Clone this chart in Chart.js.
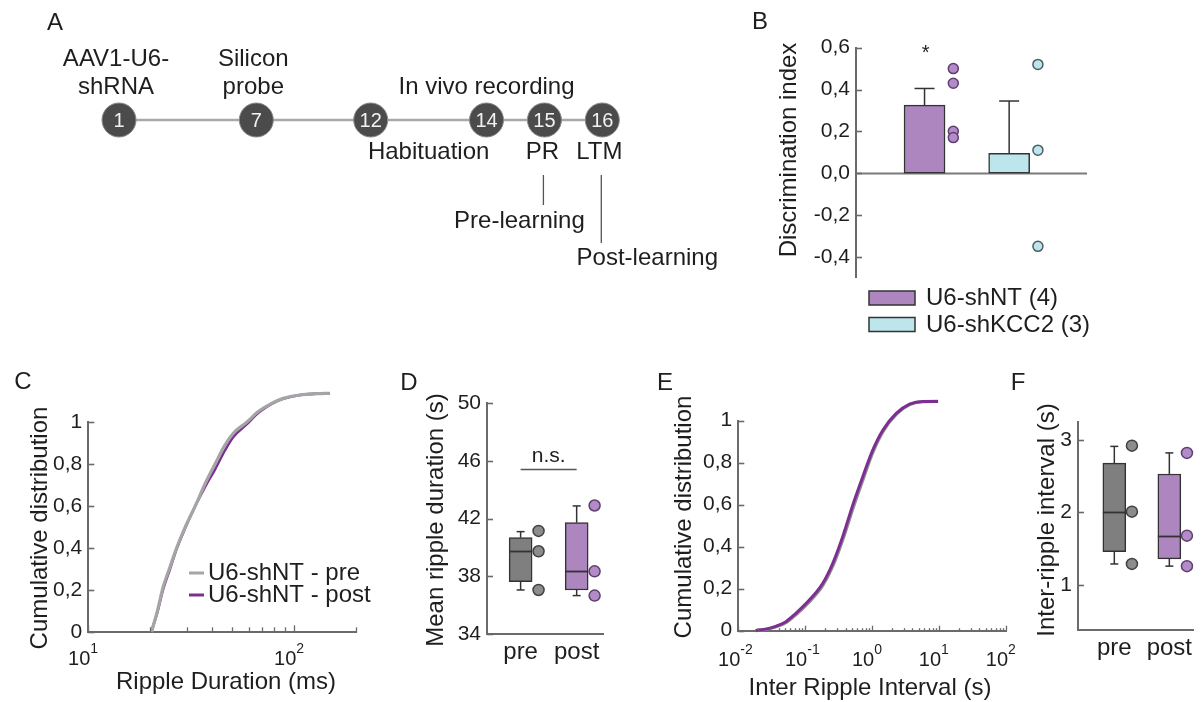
<!DOCTYPE html>
<html>
<head>
<meta charset="utf-8">
<script src="https://cdn.jsdelivr.net/npm/chart.js@4.4.1/dist/chart.umd.min.js"></script>
<style>
html,body{margin:0;padding:0;background:#fff;}
#wrap{position:relative;width:1202px;height:702px;overflow:hidden;background:#fff;}
#wrap canvas{position:absolute;left:0;top:0;}
</style>
</head>
<body>
<div id="wrap">
<canvas id="cA" width="1202" height="702"></canvas>
<canvas id="cB" width="1202" height="702"></canvas>
<canvas id="cC" width="1202" height="702"></canvas>
<canvas id="cD" width="1202" height="702"></canvas>
<canvas id="cE" width="1202" height="702"></canvas>
<canvas id="cF" width="1202" height="702"></canvas>
</div>
<script>
// ---------------- DATA ----------------
// Panel A: timeline (days)
const timelineDays = [1, 7, 12, 14, 15, 16];
const timelineTop = { 1: ['AAV1-U6-', 'shRNA'], 7: ['Silicon', 'probe'] };

// Panel B: discrimination index
const groupLabels = ['U6-shNT (4)', 'U6-shKCC2 (3)'];
const discMean = [0.325, 0.095];
const discErr = [0.08, 0.25];
const discShNT = [0.50, 0.43, 0.20, 0.17];
const discShKCC2 = [0.52, 0.11, -0.35];
const discSig = ['*', ''];
const discTicks = [-0.4, -0.2, 0, 0.2, 0.4, 0.6];

// Panel C: ripple duration CDF
const durationMs = [20.2, 21.5, 23.1, 24.9, 26.8, 29.5, 33.0, 37.0, 41.2, 46.0, 50.6, 58.7, 66.9, 77.6, 88.4, 106.6, 128, 149];
const cdfDurPre  = [0, 0.09, 0.217, 0.31, 0.40, 0.50, 0.60, 0.71, 0.80, 0.89, 0.948, 1.00, 1.051, 1.090, 1.114, 1.130, 1.136, 1.138];
const cdfDurPost = [0, 0.085, 0.205, 0.30, 0.395, 0.495, 0.60, 0.695, 0.775, 0.865, 0.93, 0.99, 1.045, 1.088, 1.112, 1.130, 1.136, 1.138];
const cdfTicks = [0, 0.2, 0.4, 0.6, 0.8, 1];

// Panel D: mean ripple duration (min, q1, median, q3, max)
const sessions = ['pre', 'post'];
const durStatsPre  = [37.05, 37.62, 39.73, 40.67, 41.09];
const durStatsPost = [36.66, 37.05, 38.34, 41.71, 42.87];
const durPtsPre  = [41.14, 39.73, 37.05];
const durPtsPost = [42.90, 38.34, 36.66];
const durSigY = 45.4;
const durTicks = [34, 38, 42, 46, 50];

// Panel E: inter ripple interval CDF
const iriSec = [0.0182, 0.0288, 0.0514, 0.0724, 0.115, 0.182, 0.257, 0.363, 0.513, 0.724, 1.02, 1.45, 2.29, 3.63, 5.75, 9.66];
const cdfIriPost = [0, 0.011, 0.043, 0.083, 0.146, 0.225, 0.32, 0.448, 0.598, 0.733, 0.86, 0.956, 1.035, 1.079, 1.092, 1.092];
const cdfIriPre  = [0, 0.009, 0.038, 0.076, 0.137, 0.214, 0.306, 0.432, 0.58, 0.717, 0.848, 0.948, 1.03, 1.077, 1.091, 1.092];

// Panel F: inter-ripple interval (min, q1, median, q3, max)
const iriStatsPre  = [1.29, 1.46, 2.01, 2.68, 2.91];
const iriStatsPost = [1.26, 1.36, 1.68, 2.53, 2.82];
const iriPtsPre  = [2.92, 2.01, 1.29];
const iriPtsPost = [2.82, 1.68, 1.26];
const iriTicks = [1, 2, 3];

// ---------------- STYLE ----------------
const FONT = "'Liberation Sans', Arial, Helvetica, sans-serif";
Chart.defaults.font.family = FONT;
Chart.defaults.color = '#1e1e1e';
const W = 1202, H = 702;
const TXT = '#1e1e1e';
const AXIS = '#6a6a6a';
const PURPLE = '#ad86bf', PURPLE_PT = '#b28bc8', PURPLE_EDGE = '#5e3f6e';
const CYAN = '#bce5ec', CYAN_EDGE = '#4b5f63';
const GRAYBOX = '#7f7f7f', GRAY_PT = '#8c8c8c', GRAY_EDGE = '#404040';
const LINE_GRAY = '#a5a5a5', LINE_PURPLE = '#7d2e92';
const BOX_EDGE = '#333333';
const TS = 24;   // title / label text size
const KS = 21;   // tick label size

function comma(v) {
  if (v === 0) return '0';
  if (Number.isInteger(v)) return String(v);
  return v.toFixed(1).replace('.', ',');
}
function comma1(v) { return v.toFixed(1).replace('.', ','); }

function txt(ctx, s, x, y, o) {
  o = o || {};
  ctx.save();
  ctx.font = (o.weight || 'normal') + ' ' + (o.size || TS) + 'px ' + FONT;
  ctx.fillStyle = o.color || TXT;
  ctx.textAlign = o.align || 'center';
  ctx.textBaseline = o.baseline || 'middle';
  ctx.translate(x, y);
  if (o.rot) ctx.rotate(o.rot);
  ctx.fillText(s, 0, 0);
  ctx.restore();
}
function line(ctx, x1, y1, x2, y2, color, w) {
  ctx.save();
  ctx.strokeStyle = color; ctx.lineWidth = w; ctx.lineCap = 'butt';
  ctx.beginPath(); ctx.moveTo(x1, y1); ctx.lineTo(x2, y2); ctx.stroke();
  ctx.restore();
}
function pow10(ctx, exp, x, y) {
  txt(ctx, '10', x + 2, y, { size: 20, align: 'right' });
  txt(ctx, String(exp), x + 2, y - 10, { size: 14, align: 'left' });
}
function innerYTicks(chart, len) {
  const s = chart.scales.y, ctx = chart.ctx, L = chart.chartArea.left;
  s.ticks.forEach(t => {
    const p = Math.round(s.getPixelForValue(t.value)) + 0.5;
    line(ctx, L, p, L + len, p, AXIS, 1.6);
  });
}
function logXTicks(chart, minorLen, majorLen) {
  const s = chart.scales.x, ctx = chart.ctx, B = chart.chartArea.bottom;
  const lo = Math.floor(Math.log10(s.min)), hi = Math.ceil(Math.log10(s.max));
  for (let e = lo; e <= hi; e++) {
    for (let m = 1; m <= 9; m++) {
      const v = m * Math.pow(10, e);
      if (v < s.min * 0.999 || v > s.max * 1.001) continue;
      const p = Math.round(s.getPixelForValue(v)) + 0.5;
      line(ctx, p, B, p, B - (m === 1 ? majorLen : minorLen), AXIS, 1.3);
    }
  }
}
function padFor(a, yW, xH) {
  return { left: a.L - yW, top: a.T, right: W - a.R, bottom: H - a.B - xH };
}
function baseOpts(area, yW, xH) {
  return {
    responsive: false, animation: false, devicePixelRatio: 1,
    layout: { padding: padFor(area, yW, xH) },
    plugins: { legend: { display: false }, tooltip: { enabled: false } },
    events: []
  };
}
function yScale(min, max, ticksArr, yW, fmt) {
  return {
    type: 'linear', min: min, max: max,
    afterBuildTicks: s => { s.ticks = ticksArr.map(v => ({ value: v })); },
    afterFit: s => { s.width = yW; },
    grid: { display: false, drawTicks: false },
    border: { display: true, color: AXIS, width: 2 },
    ticks: { callback: fmt, font: { size: KS }, color: TXT, padding: 6, autoSkip: false }
  };
}
function whiskers(chart, statsList, cap) {
  const ctx = chart.ctx, x = chart.scales.x, y = chart.scales.y;
  statsList.forEach((st, i) => {
    const cx = x.getPixelForValue(i + 1);
    line(ctx, cx, y.getPixelForValue(st[3]), cx, y.getPixelForValue(st[4]), BOX_EDGE, 1.5);
    line(ctx, cx, y.getPixelForValue(st[1]), cx, y.getPixelForValue(st[0]), BOX_EDGE, 1.5);
    line(ctx, cx - cap, y.getPixelForValue(st[4]), cx + cap, y.getPixelForValue(st[4]), BOX_EDGE, 1.5);
    line(ctx, cx - cap, y.getPixelForValue(st[0]), cx + cap, y.getPixelForValue(st[0]), BOX_EDGE, 1.5);
  });
}
function medians(chart, statsList) {
  const ctx = chart.ctx, x = chart.scales.x, y = chart.scales.y;
  statsList.forEach((st, i) => {
    const cx = x.getPixelForValue(i + 1);
    const py = Math.round(y.getPixelForValue(st[2])) + 0.5;
    line(ctx, cx - 11.5, py, cx + 11.5, py, BOX_EDGE, 1.8);
  });
}

// ---------------- PANEL A: timeline ----------------
const expand = d => d <= 12 ? d : 12 + (d - 12) * 2.53;
(function () {
  const area = { L: 119, R: 602.3, T: 100, B: 140 };
  const o = baseOpts(area, 0, 0);
  o.scales = {
    x: { type: 'linear', display: false, min: expand(timelineDays[0]), max: expand(timelineDays[timelineDays.length - 1]) },
    y: { type: 'linear', display: false, min: -1, max: 1 }
  };
  new Chart(document.getElementById('cA'), {
    type: 'scatter',
    data: { datasets: [{
      label: 'timeline',
      data: timelineDays.map(d => ({ x: expand(d), y: 0 })),
      showLine: true, borderColor: '#a8a8a8', borderWidth: 2.5,
      pointRadius: 17, pointBackgroundColor: '#4b4b4b', pointBorderColor: '#8a8a8a', pointBorderWidth: 1,
      clip: false
    }] },
    options: o,
    plugins: [{
      id: 'timelineText',
      afterDatasetsDraw(chart) {
        const ctx = chart.ctx, meta = chart.getDatasetMeta(0);
        const pts = meta.data.map(p => ({ x: p.x, y: p.y }));
        const byDay = {}; timelineDays.forEach((d, i) => byDay[d] = pts[i]);
        timelineDays.forEach((d, i) => {
          txt(ctx, String(d), pts[i].x, pts[i].y + 1, { size: 20, color: '#f2f2f2' });
          if (timelineTop[d]) {
            txt(ctx, timelineTop[d][0], pts[i].x - 3, pts[i].y - 61);
            txt(ctx, timelineTop[d][1], pts[i].x - 3, pts[i].y - 33);
          }
        });
        const cy = pts[0].y;
        txt(ctx, 'In vivo recording', byDay[14].x, cy - 33);
        txt(ctx, 'Habituation', (byDay[12].x + byDay[14].x) / 2, cy + 32);
        txt(ctx, 'PR', byDay[15].x - 2, cy + 32);
        txt(ctx, 'LTM', byDay[16].x - 3, cy + 32);
        line(ctx, byDay[15].x - 1, cy + 55, byDay[15].x - 1, cy + 85, '#555', 1.3);
        line(ctx, byDay[16].x - 1, cy + 55, byDay[16].x - 1, cy + 123, '#555', 1.3);
        txt(ctx, 'Pre-learning', byDay[15].x - 25, cy + 101);
        txt(ctx, 'Post-learning', byDay[16].x + 45, cy + 138);
        txt(ctx, 'A', 55, 23, { size: 24 });
      }
    }]
  });
})();

// ---------------- PANEL B: discrimination index ----------------
(function () {
  const area = { L: 856, R: 1087, T: 47.7, B: 277.7 };
  const yW = 50;
  const o = baseOpts(area, yW, 0);
  const ys = yScale(-0.5, 0.6, discTicks, yW, comma1);
  o.scales = {
    x: { type: 'linear', display: false, min: 0.19, max: 2.92, offset: false },
    y: ys
  };
  const ptsSets = [discShNT, discShKCC2];
  const fills = [PURPLE, CYAN], ptFills = [PURPLE_PT, CYAN], ptEdges = [PURPLE_EDGE, CYAN_EDGE];
  const datasets = [];
  groupLabels.forEach((g, i) => {
    datasets.push({
      type: 'bar', label: g, data: [{ x: i + 1, y: discMean[i] }],
      backgroundColor: fills[i], borderColor: BOX_EDGE, borderWidth: 1.5, borderSkipped: false,
      barThickness: 41, grouped: false, order: 2
    });
  });
  ptsSets.forEach((arr, i) => {
    datasets.push({
      type: 'scatter', label: groupLabels[i] + ' points',
      data: arr.map(v => ({ x: i + 1.34, y: v })),
      pointRadius: 5, pointBackgroundColor: ptFills[i], pointBorderColor: ptEdges[i], pointBorderWidth: 1.5,
      order: 0, clip: false
    });
  });
  new Chart(document.getElementById('cB'), {
    type: 'bar',
    data: { datasets },
    options: o,
    plugins: [{
      id: 'bDeco',
      beforeDatasetsDraw(chart) {
        const ctx = chart.ctx, x = chart.scales.x, y = chart.scales.y, a = chart.chartArea;
        const p0 = Math.round(y.getPixelForValue(0)) + 0.5;
        line(ctx, a.left, p0, a.right, p0, '#7a7a7a', 2);
        discMean.forEach((m, i) => {
          const cx = x.getPixelForValue(i + 1);
          const top = y.getPixelForValue(m + discErr[i]);
          line(ctx, cx, y.getPixelForValue(m), cx, top, BOX_EDGE, 1.5);
          line(ctx, cx - 10, top, cx + 10, top, BOX_EDGE, 1.5);
        });
      },
      afterDatasetsDraw(chart) {
        const ctx = chart.ctx, x = chart.scales.x, y = chart.scales.y;
        innerYTicks(chart, 6);
        discSig.forEach((s, i) => {
          if (s) txt(ctx, s, x.getPixelForValue(i + 1) + 1, y.getPixelForValue(0.57), { size: 20 });
        });
        txt(ctx, 'Discrimination index', 789, 150, { rot: -Math.PI / 2 });
        txt(ctx, 'B', 760, 22, { size: 24 });
        const bars = chart.data.datasets.filter(d => d.type === 'bar');
        bars.forEach((d, i) => {
          const yy = 291 + i * 26.5;
          ctx.save();
          ctx.fillStyle = d.backgroundColor; ctx.strokeStyle = BOX_EDGE; ctx.lineWidth = 1.5;
          ctx.fillRect(869, yy, 46, 14); ctx.strokeRect(869, yy, 46, 14);
          ctx.restore();
          txt(ctx, d.label, 926, yy + 7.5, { align: 'left' });
        });
      }
    }]
  });
})();

// ---------------- PANEL C: ripple duration CDF ----------------
(function () {
  const area = { L: 88.3, R: 356.7, T: 422.3, B: 632.3 };
  const yW = 50, xH = 10;
  const o = baseOpts(area, yW, xH);
  o.scales = {
    x: { type: 'logarithmic', min: 10, max: 201,
         afterFit: s => { s.height = xH; },
         grid: { display: false, drawTicks: false }, border: { display: true, color: AXIS, width: 2 },
         ticks: { display: false } },
    y: yScale(0, 1, cdfTicks, yW, comma)
  };
  new Chart(document.getElementById('cC'), {
    type: 'line',
    data: { datasets: [
      { label: 'U6-shNT - pre', data: durationMs.map((v, i) => ({ x: v, y: cdfDurPre[i] })),
        borderColor: LINE_GRAY, borderWidth: 3.2, pointRadius: 0, cubicInterpolationMode: 'monotone', clip: false },
      { label: 'U6-shNT - post', data: durationMs.map((v, i) => ({ x: v, y: cdfDurPost[i] })),
        borderColor: LINE_PURPLE, borderWidth: 2.6, pointRadius: 0, cubicInterpolationMode: 'monotone', clip: false }
    ] },
    options: o,
    plugins: [{
      id: 'cDeco',
      afterDatasetsDraw(chart) {
        const ctx = chart.ctx, x = chart.scales.x;
        innerYTicks(chart, 6);
        logXTicks(chart, 5, 7);
        [1, 2].forEach(e => pow10(ctx, e, x.getPixelForValue(Math.pow(10, e)), 659));
        txt(ctx, 'Ripple Duration (ms)', 226, 682);
        txt(ctx, 'Cumulative distribution', 40, 528, { rot: -Math.PI / 2 });
        txt(ctx, 'C', 23, 382, { size: 24 });
        chart.data.datasets.forEach((d, i) => {
          const yy = 573 + i * 22;
          line(ctx, 189, yy, 204, yy, d.borderColor, 3);
          txt(ctx, d.label, 208, yy, { align: 'left' });
        });
      }
    }]
  });
})();

// ---------------- BOX PANELS (D, F) ----------------
function boxChart(id, area, yW, xH, yMin, yMax, yTicksArr, statsPre, statsPost, ptsPre, ptsPost, xMin, xMax, extra) {
  const o = baseOpts(area, yW, xH);
  o.scales = {
    x: { type: 'linear', min: xMin, max: xMax, offset: false,
         afterBuildTicks: s => { s.ticks = sessions.map((_, i) => ({ value: i + 1 })); },
         afterFit: s => { s.height = xH; },
         grid: { display: false, drawTicks: false }, border: { display: true, color: AXIS, width: 2 },
         ticks: { callback: v => sessions[v - 1], font: { size: TS }, color: TXT, padding: 4, autoSkip: false, maxRotation: 0 } },
    y: yScale(yMin, yMax, yTicksArr, yW, v => String(v))
  };
  const statsArr = [statsPre, statsPost];
  const ptsArr = [ptsPre, ptsPost];
  const fills = [GRAYBOX, PURPLE], ptFills = [GRAY_PT, PURPLE_PT], ptEdges = [GRAY_EDGE, PURPLE_EDGE];
  const datasets = [];
  sessions.forEach((s, i) => {
    datasets.push({ type: 'bar', label: s, data: [{ x: i + 1, y: [statsArr[i][1], statsArr[i][3]] }],
      backgroundColor: fills[i], borderColor: BOX_EDGE, borderWidth: 1.5, borderSkipped: false,
      barThickness: 23, grouped: false, order: 2 });
  });
  sessions.forEach((s, i) => {
    datasets.push({ type: 'scatter', label: s + ' animals', data: ptsArr[i].map(v => ({ x: i + 1.32, y: v })),
      pointRadius: 5.5, pointBackgroundColor: ptFills[i], pointBorderColor: ptEdges[i], pointBorderWidth: 1.5,
      order: 0, clip: false });
  });
  new Chart(document.getElementById(id), {
    type: 'bar', data: { datasets }, options: o,
    plugins: [{
      id: id + 'Deco',
      beforeDatasetsDraw(chart) { whiskers(chart, statsArr, 4); },
      afterDatasetsDraw(chart) { medians(chart, statsArr); innerYTicks(chart, 6); extra(chart); }
    }]
  });
}
boxChart('cD', { L: 487, R: 603, T: 403, B: 634 }, 50, 34, 34, 50, durTicks,
  durStatsPre, durStatsPost, durPtsPre, durPtsPost, 0.4, 2.47, chart => {
    const ctx = chart.ctx, x = chart.scales.x, y = chart.scales.y;
    const py = y.getPixelForValue(durSigY);
    line(ctx, x.getPixelForValue(1), py, x.getPixelForValue(2), py, '#555', 1.5);
    txt(ctx, 'n.s.', (x.getPixelForValue(1) + x.getPixelForValue(2)) / 2, py - 13, { size: 21 });
    txt(ctx, 'Mean ripple duration (s)', 436, 520, { rot: -Math.PI / 2 });
    txt(ctx, 'D', 409, 383, { size: 24 });
  });

// ---------------- PANEL E: inter ripple interval CDF ----------------
(function () {
  const area = { L: 738.3, R: 1006, T: 420.7, B: 630.7 };
  const yW = 50, xH = 10;
  const o = baseOpts(area, yW, xH);
  o.scales = {
    x: { type: 'logarithmic', min: 0.01, max: 100,
         afterFit: s => { s.height = xH; },
         grid: { display: false, drawTicks: false }, border: { display: true, color: AXIS, width: 2 },
         ticks: { display: false } },
    y: yScale(0, 1, cdfTicks, yW, comma)
  };
  new Chart(document.getElementById('cE'), {
    type: 'line',
    data: { datasets: [
      { label: 'U6-shNT - post', data: iriSec.map((v, i) => ({ x: v, y: cdfIriPost[i] })),
        borderColor: LINE_PURPLE, borderWidth: 3, pointRadius: 0, cubicInterpolationMode: 'monotone', clip: false },
      { label: 'U6-shNT - pre', data: iriSec.map((v, i) => ({ x: v, y: cdfIriPre[i] })),
        borderColor: '#8f8f8f', borderWidth: 3.2, pointRadius: 0, cubicInterpolationMode: 'monotone', clip: false }
    ] },
    options: o,
    plugins: [{
      id: 'eDeco',
      afterDatasetsDraw(chart) {
        const ctx = chart.ctx, x = chart.scales.x;
        innerYTicks(chart, 6);
        logXTicks(chart, 2.5, 5);
        [-2, -1, 0, 1, 2].forEach(e => pow10(ctx, e, x.getPixelForValue(Math.pow(10, e)), 660));
        txt(ctx, 'Inter Ripple Interval (s)', 870, 688);
        txt(ctx, 'Cumulative distribution', 684, 517, { rot: -Math.PI / 2 });
        txt(ctx, 'E', 665, 383, { size: 24 });
      }
    }]
  });
})();

// ---------------- PANEL F: inter-ripple interval ----------------
boxChart('cF', { L: 1078, R: 1193, T: 421.7, B: 630 }, 30, 34, 0.38, 3.25, iriTicks,
  iriStatsPre, iriStatsPost, iriPtsPre, iriPtsPost, 0.34, 2.43, chart => {
    txt(chart.ctx, 'Inter-ripple interval (s)', 1047, 520, { rot: -Math.PI / 2 });
    txt(chart.ctx, 'F', 1018, 383, { size: 24 });
  });
</script>
</body>
</html>
